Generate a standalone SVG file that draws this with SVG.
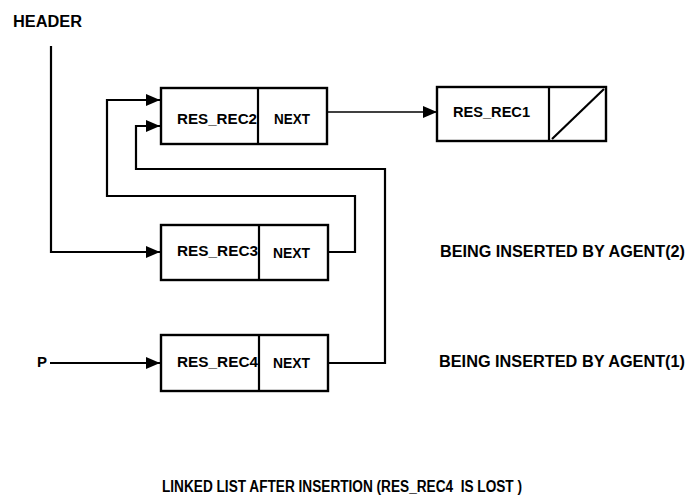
<svg xmlns="http://www.w3.org/2000/svg" width="687" height="498" viewBox="0 0 687 498">
<defs>
<style>
.box{fill:#fff;stroke:#000;stroke-width:2.4}
.div{stroke:#000;stroke-width:2.2}
.t{font-family:"Liberation Sans",Arial,sans-serif;font-weight:bold;fill:#000}
.lbl{font-size:14px}
.big{font-size:16px}
.conn{fill:none;stroke:#000;stroke-width:2.2}
</style>
<marker id="ah" markerUnits="userSpaceOnUse" markerWidth="15" markerHeight="13" refX="14" refY="6" orient="auto">
<path d="M0,0 L14,6 L0,12 z" fill="#000"/>
</marker>
</defs>
<rect width="687" height="498" fill="#fff"/>
<g id="connectors">
<polyline class="conn" points="51,46 51,252 160,252" marker-end="url(#ah)"/>
<polyline class="conn" points="329,252 355,252 355,196 107,196 107,100 160,100" marker-end="url(#ah)"/>
<polyline class="conn" points="329,363 385,363 385,169 136,169 136,126 160,126" marker-end="url(#ah)"/>
<polyline class="conn" points="50,363 160,363" marker-end="url(#ah)"/>
<polyline class="conn" style="stroke-width:1.7" points="328,112 437,112" marker-end="url(#ah)"/>
</g>
<g id="header"><text class="t" x="13" y="27" font-size="16" textLength="69" lengthAdjust="spacingAndGlyphs">HEADER</text></g>
<g id="p"><text class="t" x="37" y="367" font-size="15">P</text></g>
<g id="res_rec2">
<rect class="box" x="161" y="88" width="166" height="56"/>
<line class="div" x1="258" y1="88" x2="258" y2="144"/>
<text class="t lbl" x="177" y="124" textLength="80" lengthAdjust="spacingAndGlyphs">RES_REC2</text>
<text class="t lbl" x="274" y="124" textLength="36" lengthAdjust="spacingAndGlyphs">NEXT</text>
</g>
<g id="res_rec1">
<rect class="box" x="437" y="87" width="169" height="54"/>
<line class="div" x1="549" y1="87" x2="549" y2="141"/>
<line class="div" x1="552" y1="139" x2="604" y2="89"/>
<text class="t lbl" x="453" y="117" textLength="77" lengthAdjust="spacingAndGlyphs">RES_REC1</text>
</g>
<g id="res_rec3">
<rect class="box" x="161" y="225" width="167" height="55"/>
<line class="div" x1="259" y1="225" x2="259" y2="280"/>
<text class="t lbl" x="177" y="256" textLength="81" lengthAdjust="spacingAndGlyphs">RES_REC3</text>
<text class="t lbl" x="273" y="258" textLength="37" lengthAdjust="spacingAndGlyphs">NEXT</text>
</g>
<g id="res_rec4">
<rect class="box" x="161" y="335" width="167" height="56"/>
<line class="div" x1="259" y1="335" x2="259" y2="391"/>
<text class="t lbl" x="177" y="367" textLength="81" lengthAdjust="spacingAndGlyphs">RES_REC4</text>
<text class="t lbl" x="273" y="368" textLength="37" lengthAdjust="spacingAndGlyphs">NEXT</text>
</g>
<g id="agent2"><text class="t big" x="440" y="257" textLength="245" lengthAdjust="spacingAndGlyphs">BEING INSERTED BY AGENT(2)</text></g>
<g id="agent1"><text class="t big" x="439" y="367" textLength="246" lengthAdjust="spacingAndGlyphs">BEING INSERTED BY AGENT(1)</text></g>
<g id="caption"><text class="t big" x="162" y="492" textLength="360" lengthAdjust="spacingAndGlyphs" xml:space="preserve">LINKED LIST AFTER INSERTION (RES_REC4  IS LOST )</text></g>
</svg>
